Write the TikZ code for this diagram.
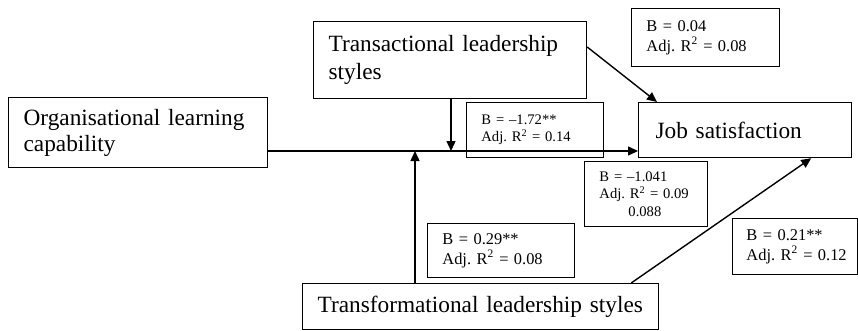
\documentclass[tikz,border=0pt]{standalone}
\usepackage{fontspec}
\setmainfont{Liberation Serif}
\usetikzlibrary{arrows.meta,calc}
\frenchspacing

\begin{document}
\begin{tikzpicture}[x=1pt,y=-1pt,
  box/.style={draw,line width=1.2pt,anchor=north west,align=left,inner ysep=0pt,font=\fontsize{23.3}{26}\selectfont},
  lab/.style={draw,line width=0.9pt,anchor=north west,align=left,inner xsep=15pt,inner ysep=0pt,font=\fontsize{16.4}{20}\selectfont},
  labs/.style={lab,font=\fontsize{14.6}{17.5}\selectfont},
  arr/.style={line width=1.4pt,-{Triangle[length=10pt,width=9pt]}}]
\useasboundingbox (0,0) rectangle (858,330);
\node[box,inner xsep=15pt,text width=229pt,minimum height=70pt] (org) at (8,97) {Organisational learning\\capability};
\node[box,inner xsep=15pt,text width=243pt,minimum height=77pt,font=\fontsize{23.3}{28}\selectfont] (trans) at (313,21) {Transactional leadership\\styles};
\node[box,inner xsep=17pt,text width=179pt,minimum height=55pt] (job) at (638,102) {Job satisfaction};
\node[box,inner xsep=15pt,text width=326pt,minimum height=46pt] (transf) at (302,283) {Transformational leadership styles};
\node[lab,text width=118pt,minimum height=58pt] (btj) at (631,8) {B = 0.04\\Adj. R\textsuperscript{2} = 0.08};
\node[labs,text width=107pt,minimum height=55pt] (bmod) at (466,102) {B = –1.72**\\Adj. R\textsuperscript{2} = 0.14};
\node[labs,text width=93pt,minimum height=65pt] (bol) at (584,161) {B = –1.041\\Adj. R\textsuperscript{2} = 0.09\\\hspace*{29pt}0.088};
\node[lab,text width=117pt,minimum height=54pt] (bfo) at (427,223) {B = 0.29**\\Adj. R\textsuperscript{2} = 0.08};
\node[lab,inner xsep=8pt,text width=109pt,minimum height=56pt] (bfj) at (732,218) {\hspace*{6pt}B = 0.21**\\\hspace*{6pt}Adj. R\textsuperscript{2} = 0.12};
\coordinate (y1) at (0,151);
\coordinate (j1) at (451,151);
\coordinate (j2) at (415,151);
\draw[arr] (org.east |- y1) -- (job.west |- y1);
\draw[arr] (trans.south -| j1) -- (j1);
\draw[arr] (transf.north -| j2) -- (j2);
\draw[arr] ($(trans.north east)+(0,26)$) -- ($(job.north west)+(19,0)$);
\draw[arr] ($(transf.north east)+(-28,0)$) -- ($(job.south east)+(-41,0)$);
\end{tikzpicture}
\end{document}
